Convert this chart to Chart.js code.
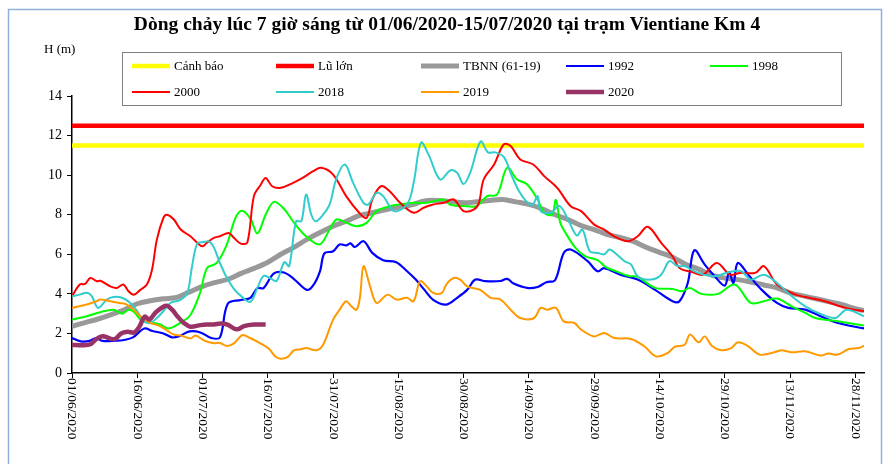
<!DOCTYPE html>
<html><head><meta charset="utf-8">
<script src="https://cdn.jsdelivr.net/npm/chart.js@4.4.1/dist/chart.umd.min.js"></script>
<style>html,body{margin:0;padding:0;background:#fff;}canvas{display:block;}</style>
</head><body>
<canvas id="c" width="887" height="464"></canvas>
<script>
// ---- text ----
const chartTitle = 'Dòng chảy lúc 7 giờ sáng từ 01/06/2020-15/07/2020 tại trạm Vientiane Km 4';
const yUnit = 'H (m)';
// x axis: day index from 01/06/2020 (0) to 30/11/2020 (182)
const xTickDays = [0, 15, 30, 45, 60, 75, 90, 105, 120, 135, 150, 165, 180];
const xTickLabels = ['01/06/2020','16/06/2020','01/07/2020','16/07/2020','31/07/2020','15/08/2020','30/08/2020','14/09/2020','29/09/2020','14/10/2020','29/10/2020','13/11/2020','28/11/2020'];
const yTicks = [0, 2, 4, 6, 8, 10, 12, 14];

// ---- series: [day, H (m)] ----
const canhBao = [[0,11.5],[182,11.5]];
const luLon = [[0,12.5],[182,12.5]];
const tbnn = [[0,2.36],[3,2.55],[6,2.73],[9,2.95],[12,3.2],[15,3.5],[18,3.65],[21,3.75],[24,3.82],[27,4.1],[30,4.38],[33,4.58],[36,4.75],[39,5.05],[42,5.3],[45,5.6],[48,6.0],[51,6.35],[54,6.75],[57,7.1],[60,7.42],[63,7.67],[66,7.95],[69,8.1],[72,8.25],[75,8.37],[78,8.5],[81,8.7],[84,8.72],[87,8.67],[90,8.6],[93,8.65],[96,8.72],[99,8.77],[102,8.65],[105,8.52],[108,8.3],[111,8.0],[114,7.75],[117,7.45],[120,7.25],[123,7.0],[126,6.85],[129,6.65],[132,6.35],[135,6.1],[138,5.85],[141,5.5],[144,5.25],[147,4.95],[150,4.8],[153,4.72],[156,4.6],[159,4.45],[162,4.3],[165,4.05],[168,3.9],[171,3.75],[174,3.6],[177,3.45],[180,3.25],[182,3.15]];
const h1992 = [[0,1.77],[2,1.6],[4,1.62],[5.5,1.77],[7,1.62],[10,1.63],[12,1.67],[14,1.8],[16.6,2.25],[18.5,2.12],[21,2.0],[23,1.8],[24.5,1.85],[27,2.1],[29.5,2.05],[32,1.77],[34,1.8],[35.8,3.5],[38.8,3.69],[41,3.8],[42.6,4.29],[44,4.29],[46.4,5.03],[48.7,5.08],[51,4.75],[54,4.2],[55.5,4.45],[57,5.15],[58,6.05],[60,6.15],[61.5,6.5],[63,6.45],[64,6.55],[65,6.37],[67,6.66],[69,6.07],[71.5,5.7],[74.5,5.6],[77,5.14],[79,4.72],[81,4.2],[83,3.7],[86,3.46],[88.5,3.8],[90.8,4.2],[92.7,4.72],[95,4.64],[98.5,4.65],[100,4.76],[101.5,4.52],[104.6,4.3],[107,4.35],[109,4.59],[111,4.69],[113,6.07],[114.6,6.24],[118.5,5.65],[120.8,5.14],[122.3,5.3],[126,4.97],[130,4.72],[134,4.2],[138,3.63],[139.6,3.63],[141.5,4.55],[143,6.2],[145.4,5.48],[147.7,4.89],[150,4.42],[151,5.1],[152,4.55],[153,5.56],[155.4,4.97],[158.5,4.2],[162,3.54],[164.6,3.29],[168.5,3.2],[172,2.87],[176,2.53],[182,2.25]];
const h1998 = [[0,2.7],[3.4,2.87],[6.5,3.07],[9.5,3.2],[11.5,3.0],[13,3.2],[14.2,3.1],[16,2.65],[18,2.56],[20.3,2.45],[22.2,2.25],[25,2.55],[27.2,2.93],[29.5,4.1],[31,5.3],[33.2,5.55],[35.5,6.45],[37.5,7.8],[39,8.2],[41,7.8],[42.6,7.05],[44.5,8.0],[46.4,8.65],[48.7,8.3],[51,7.6],[53.8,6.91],[56.9,6.5],[59.2,7.25],[60.8,7.76],[63.1,7.59],[65.4,7.42],[67.7,7.59],[70,8.18],[73,8.43],[74.6,8.5],[78.5,8.6],[81.5,8.6],[85.4,8.77],[87,8.5],[90.8,8.43],[93,8.43],[95.4,8.94],[97.7,9.02],[100,10.37],[102.3,9.78],[104.6,9.53],[107,8.77],[108.5,8.1],[110.3,8.0],[111.2,8.75],[112.2,7.6],[113.5,7.05],[115.8,6.3],[118,5.9],[120.8,5.7],[122.7,5.35],[125,5.15],[128,4.9],[130,4.86],[134,4.3],[138,4.25],[140.2,4.13],[142,4.3],[144.6,4.0],[148.5,4.0],[152.3,4.47],[156,3.54],[159,3.63],[162,3.76],[165.4,3.37],[168.5,3.04],[170.8,2.78],[176,2.61],[182,2.4]];
const h2000 = [[0,3.88],[1.8,4.47],[3,4.5],[4.2,4.8],[5.7,4.64],[6.5,4.66],[8.8,4.38],[10.3,4.3],[11.8,4.47],[13,4.13],[14.2,3.96],[15.7,4.2],[17.2,4.47],[18.4,5.23],[19.5,6.74],[21,7.84],[21.8,8.0],[23.4,7.76],[25,7.25],[27.2,6.91],[28.8,6.58],[30,6.4],[31,6.58],[32.6,6.83],[34,6.91],[36,7.08],[37.2,6.83],[38.8,6.54],[40.3,6.6],[41.8,8.94],[43.4,9.53],[44.5,9.86],[46,9.44],[48,9.36],[50.8,9.61],[53,9.86],[55.4,10.2],[57.3,10.37],[60,10.03],[63,8.94],[66,8.1],[67.7,7.84],[69,8.77],[71,9.44],[73,9.19],[75.4,8.6],[78.5,8.1],[80.8,8.35],[83,8.52],[85.4,8.6],[87.7,8.77],[90,8.18],[92.3,8.26],[93.5,8.6],[94.6,9.78],[97,10.54],[99.2,11.55],[100.8,11.47],[103,10.79],[106,10.54],[108.5,9.95],[111.5,9.36],[114.6,8.43],[117,8.18],[120,7.5],[122.3,7.25],[124.6,6.91],[127.7,6.66],[130,6.91],[132.3,7.39],[135.4,6.58],[138,5.9],[139.6,5.31],[142.7,5.09],[145,4.97],[148.2,5.56],[151.2,4.97],[153.5,5.06],[157,5.06],[159,5.4],[162,4.47],[165.8,4.0],[168.5,3.84],[173,3.63],[177.7,3.29],[182,3.12]];
const h2018 = [[0,3.88],[1.8,3.96],[3.4,4.05],[4.5,3.9],[6,3.29],[8,3.71],[9.5,3.84],[11.5,3.8],[13.4,3.54],[15,3.12],[16.5,2.61],[18,2.53],[19.5,2.78],[21,3.12],[22.6,3.54],[25,3.71],[26.5,4.05],[27.6,5.4],[28.8,6.55],[30.3,6.62],[31.5,6.65],[32.6,6.35],[34,5.56],[35.5,4.85],[37.2,4.25],[38.8,3.9],[41,3.6],[42.6,4.3],[44,4.9],[45.5,4.8],[47,4.65],[48.8,5.6],[49.9,5.4],[51.5,7.67],[52.7,7.67],[53.8,9.02],[55,8.0],[56,7.67],[57.7,8.0],[59.2,8.52],[60.8,9.86],[62.7,10.54],[64.6,9.61],[67,8.6],[68.1,8.52],[70,9.1],[71.5,8.94],[74,8.18],[77,8.52],[78.5,9.61],[80.2,11.64],[82,11.0],[84.6,9.78],[87,10.25],[88.5,10.12],[90,9.55],[91.5,10.12],[93.9,11.7],[95.6,11.15],[97.3,11.15],[99.3,10.9],[101,10.0],[102.6,9.24],[104.3,8.7],[105.8,8.5],[107,8.94],[107.7,8.18],[110,8.1],[112,8.45],[114,7.75],[116,6.95],[117.3,7.25],[119,6.15],[120.8,6.07],[122.3,6.0],[123.5,6.24],[124.6,6.1],[127,5.65],[128.5,5.48],[130,4.89],[133,4.72],[135.4,4.97],[137.3,5.65],[139.2,5.4],[140.8,5.4],[143.8,5.06],[147.7,4.89],[150.8,5.09],[153.8,5.14],[156,4.72],[159,4.97],[162,4.55],[165.4,3.88],[168.5,3.37],[171.5,3.04],[175.4,2.78],[178,3.2],[182,2.87]];
const h2019 = [[0,3.29],[3.4,3.46],[5.7,3.63],[6.5,3.71],[8.8,3.63],[11,3.54],[12.6,3.46],[14.2,3.2],[15.7,2.87],[18,2.53],[20.3,2.36],[23.4,1.94],[25,1.9],[27.2,1.75],[28.4,1.89],[30.3,1.65],[32.6,1.5],[34,1.52],[35.6,1.36],[37.2,1.5],[39.2,1.92],[40.8,1.78],[43.3,1.5],[45.2,1.24],[46.8,0.82],[48,0.72],[49.5,0.8],[51,1.14],[52.6,1.2],[53.8,1.26],[56.2,1.15],[57.7,1.43],[60,2.7],[61.5,3.2],[63,3.63],[64.2,3.37],[65.4,3.2],[66.2,3.88],[67,5.4],[68.5,4.38],[70,3.54],[72.5,3.96],[74.6,3.71],[77,3.8],[78.5,3.63],[80,4.64],[81.5,4.38],[83,4.05],[85,4.05],[86,4.47],[87.7,4.8],[89.2,4.72],[90.8,4.38],[93.8,4.2],[96.2,3.8],[98.5,3.71],[100.8,3.2],[103,2.78],[106.2,2.78],[107.7,3.29],[109.2,3.2],[111.2,3.29],[113,2.61],[115.4,2.53],[117,2.19],[120,1.85],[122.3,2.02],[124.6,1.77],[128.5,1.72],[131.5,1.35],[134.2,0.84],[136.9,1.01],[138.5,1.32],[140.8,1.43],[142,1.94],[144,1.55],[145.4,1.85],[147,1.38],[149.2,1.15],[151.5,1.26],[153,1.55],[155.4,1.35],[158,0.93],[160.8,1.01],[163,1.15],[165.4,1.05],[168.5,1.1],[172,0.88],[173.8,0.98],[176,0.93],[178.5,1.21],[180.8,1.26],[182,1.38]];
const h2020 = [[0,1.42],[2.6,1.4],[4.2,1.45],[5.5,1.7],[7,1.86],[8.8,1.74],[9.9,1.72],[11.3,2.0],[12.8,2.08],[14.3,2.05],[15.5,2.35],[16.7,2.85],[17.8,2.7],[19.3,3.08],[21,3.35],[21.8,3.4],[23,3.2],[24.2,2.87],[25.7,2.53],[27.2,2.34],[29.5,2.42],[31,2.45],[32.6,2.45],[34.2,2.5],[35.7,2.45],[37.2,2.25],[38.2,2.22],[39.5,2.37],[41.8,2.45],[44.5,2.45]];

const seriesLabels = ['Cảnh báo','Lũ lớn','TBNN (61-19)','1992','1998','2000','2018','2019','2020'];
const seriesData = [canhBao, luLon, tbnn, h1992, h1998, h2000, h2018, h2019, h2020];
const seriesColors = ['#FFFF00','#FF0000','#999999','#0000FF','#00FF00','#FF0000','#33CCCC','#FF9900','#993366'];
const seriesWidths = [4.5, 4.5, 5, 2.2, 2, 2, 2, 2, 4.5];

const datasets = seriesData.map((d, i) => ({
  label: seriesLabels[i],
  data: d,
  borderColor: seriesColors[i],
  backgroundColor: seriesColors[i],
  borderWidth: seriesWidths[i],
  pointRadius: 0,
  tension: 0.35,
  fill: false,
  order: seriesData.length - i
}));

const SERIF = '"Liberation Serif", "Times New Roman", serif';

const deco = {
  id: 'deco',
  beforeDraw(chart) {
    const ctx = chart.ctx;
    ctx.save();
    ctx.fillStyle = '#fff';
    ctx.fillRect(0, 0, chart.width, chart.height);
    ctx.strokeStyle = '#8fb0dc';
    ctx.lineWidth = 1.5;
    ctx.strokeRect(8.5, 9.5, 873, 470);
    ctx.restore();
  },
  afterDraw(chart) {
    const ctx = chart.ctx;
    const xs = chart.scales.x;
    const ca = chart.chartArea;
    ctx.save();
    // title
    ctx.fillStyle = '#000';
    ctx.font = 'bold 19.5px ' + SERIF;
    ctx.textAlign = 'center';
    ctx.textBaseline = 'middle';
    ctx.fillText(chartTitle, 447, 25);
    // unit
    ctx.font = '13px ' + SERIF;
    ctx.textAlign = 'left';
    ctx.fillText(yUnit, 44, 50);
    // legend box
    ctx.fillStyle = '#fff';
    ctx.fillRect(122, 52, 719, 53);
    ctx.strokeStyle = '#7f7f7f';
    ctx.lineWidth = 1;
    ctx.strokeRect(122.5, 52.5, 719, 53);
    const colX = [132, 276, 421, 566, 710];
    const rowY = [66, 92];
    ctx.font = '13px ' + SERIF;
    ctx.textBaseline = 'middle';
    chart.data.datasets.forEach((ds, i) => {
      const c = i % 5, r = Math.floor(i / 5);
      const x = colX[c], y = rowY[r];
      ctx.strokeStyle = ds.borderColor;
      ctx.lineWidth = ds.borderWidth;
      ctx.lineCap = 'butt';
      ctx.beginPath();
      ctx.moveTo(x, y);
      ctx.lineTo(x + 38, y);
      ctx.stroke();
      ctx.fillStyle = '#000';
      ctx.fillText(ds.label, x + 42, y + 1);
    });
    // x tick labels, rotated clockwise
    ctx.font = '13.5px ' + SERIF;
    ctx.textAlign = 'left';
    ctx.textBaseline = 'middle';
    xTickDays.forEach((d, i) => {
      const px = xs.getPixelForValue(d);
      ctx.save();
      ctx.translate(px, ca.bottom + 5);
      ctx.rotate(Math.PI / 2);
      ctx.fillStyle = '#000';
      ctx.fillText(xTickLabels[i], 0, 0);
      ctx.restore();
    });
    ctx.restore();
  }
};

new Chart(document.getElementById('c'), {
  type: 'line',
  data: { datasets },
  options: {
    responsive: false,
    animation: false,
    events: [],
    layout: { padding: { top: 96, right: 23, left: 0, bottom: 0 } },
    plugins: { legend: { display: false }, tooltip: { enabled: false }, title: { display: false } },
    scales: {
      x: {
        type: 'linear', min: 0, max: 182,
        afterBuildTicks(s) { s.ticks = xTickDays.map(v => ({ value: v })); },
        ticks: { color: 'rgba(0,0,0,0)', autoSkip: false, maxRotation: 0, font: { size: 1 } },
        grid: { display: true, drawOnChartArea: false, drawTicks: true, tickLength: 5, color: '#000', lineWidth: 1 },
        border: { display: true, color: '#000', width: 1.5 },
        afterFit(s) { s.height = 91; }
      },
      y: {
        min: 0, max: 14,
        afterBuildTicks(s) { s.ticks = yTicks.map(v => ({ value: v })); },
        ticks: { color: '#000', font: { family: SERIF, size: 14 }, padding: 5 },
        grid: { display: true, drawOnChartArea: false, drawTicks: true, tickLength: 5, color: '#000', lineWidth: 1 },
        border: { display: true, color: '#000', width: 1.5 },
        afterFit(s) { s.width = 72; }
      }
    }
  },
  plugins: [deco]
});
</script>
</body></html>
